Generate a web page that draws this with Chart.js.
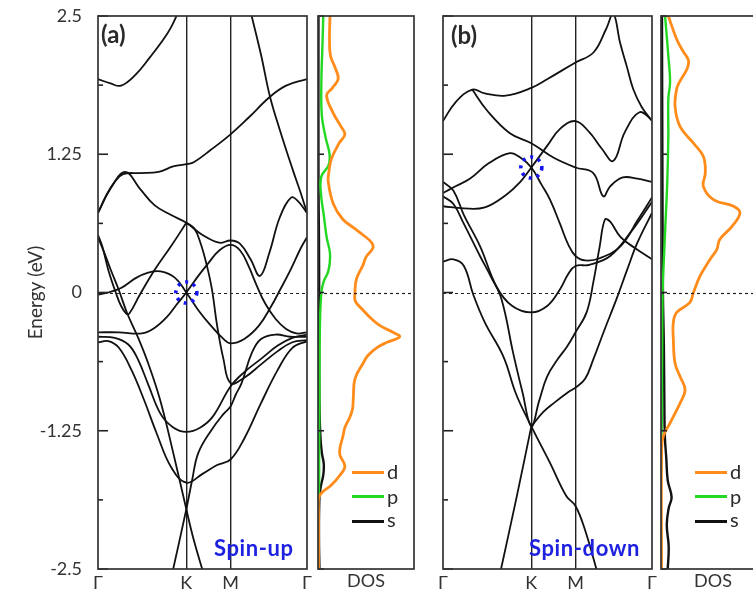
<!DOCTYPE html>
<html>
<head>
<meta charset="utf-8">
<script src="https://cdn.jsdelivr.net/npm/chart.js@4.4.0/dist/chart.umd.min.js"></script>
<style>
  html, body { margin: 0; padding: 0; background: #fff; overflow: hidden; width: 753px; height: 595px; }
  canvas { position: absolute; top: 0; }
  .txt { position: absolute; font-family: Lato, 'Open Sans', sans-serif; color: #2a2a2a; white-space: nowrap; line-height: 1; }
  .bold { font-weight: bold; }
  .spin { color: #1e22e0; font-weight: bold; font-size: 22px; letter-spacing: 0.6px; }
  .key { position: absolute; height: 3px; }
</style>
</head>
<body>
<canvas id="bandUp" width="312" height="595" style="left:0"></canvas>
<canvas id="dosUp" width="130" height="595" style="left:300px"></canvas>
<canvas id="bandDown" width="230" height="595" style="left:430px"></canvas>
<canvas id="dosDown" width="120" height="595" style="left:655px"></canvas>

<div class="txt bold" style="left:101px;top:22px;font-size:24px">(a)</div>
<div class="txt bold" style="left:451px;top:23px;font-size:24px">(b)</div>
<div class="txt spin" style="left:214px;top:537px">Spin-up</div>
<div class="txt spin" style="left:529px;top:537px">Spin-down</div>

<div class="key" style="left:352px;top:471px;width:32px;background:#ff8c1a"></div>
<div class="key" style="left:352px;top:495px;width:32px;background:#22d822"></div>
<div class="key" style="left:352px;top:520px;width:32px;background:#111"></div>
<div class="txt" style="left:387px;top:461px;font-size:20px">d</div>
<div class="txt" style="left:387px;top:486px;font-size:20px">p</div>
<div class="txt" style="left:387px;top:509px;font-size:20px">s</div>

<div class="key" style="left:695px;top:471px;width:32px;background:#ff8c1a"></div>
<div class="key" style="left:695px;top:495px;width:32px;background:#22d822"></div>
<div class="key" style="left:695px;top:520px;width:32px;background:#111"></div>
<div class="txt" style="left:730px;top:461px;font-size:20px">d</div>
<div class="txt" style="left:730px;top:486px;font-size:20px">p</div>
<div class="txt" style="left:730px;top:509px;font-size:20px">s</div>

<script>
// ---- k-path and energy axis ----
const kNodes = [0, 0.4226, 0.634, 1];
const kNames = ['Γ', 'K', 'M', 'Γ'];
const energyTicks = [-2.5, -1.25, 0, 1.25, 2.5];

// ---- spin-up bands, [k, E] ----
const upBands = [
    [[0,1.93],[0.06,1.89],[0.11,1.87],[0.18,1.97],[0.25,2.13],[0.31,2.28],[0.35,2.4],[0.385,2.54]],
    [[0.73,2.54],[0.78,2.15],[0.823,1.77],[0.87,1.47],[0.93,1.12],[0.97,0.9],[1,0.72]],
    [[0,0.72],[0.04,0.88],[0.08,1.0],[0.12,1.07],[0.2,1.08],[0.29,1.09],[0.36,1.14],[0.4226,1.16],[0.46,1.18],[0.54,1.29],[0.634,1.43],[0.72,1.58],[0.823,1.77],[0.9,1.87],[1,1.93]],
    [[0,0.72],[0.06,0.94],[0.13,1.09],[0.2,0.94],[0.27,0.79],[0.35,0.7],[0.4226,0.63],[0.5,0.52],[0.58,0.45],[0.634,0.47],[0.68,0.44],[0.73,0.3],[0.775,0.15],[0.82,0.36],[0.87,0.68],[0.925,0.86],[0.96,0.82],[1,0.72]],
    [[0,-0.36],[0.1,-0.36],[0.21,-0.37],[0.27,-0.32],[0.33,-0.22],[0.38,-0.1],[0.4226,0],[0.48,0.15],[0.53,0.27],[0.58,0.38],[0.634,0.43],[0.68,0.38],[0.72,0.24],[0.76,0.06],[0.8,-0.1],[0.85,-0.24],[0.9,-0.33],[0.95,-0.37],[1,-0.36]],
    [[0,-0.02],[0.05,0.0],[0.11,0.04],[0.18,0.13],[0.24,0.18],[0.3,0.19],[0.37,0.13],[0.4226,0],[0.48,-0.16],[0.54,-0.3],[0.6,-0.42],[0.634,-0.46],[0.7,-0.42],[0.77,-0.3],[0.83,-0.12],[0.87,0.02],[0.92,0.2],[0.97,0.4],[1,0.5]],
    [[0,0.52],[0.02,0.42],[0.05,0.2],[0.085,0.0],[0.11,-0.12],[0.135,-0.19],[0.15,-0.19],[0.2,-0.02],[0.273,0.21],[0.35,0.42],[0.4226,0.63]],
    [[0.4226,0.63],[0.46,0.58],[0.49,0.45],[0.52,0.25],[0.545,0.03],[0.57,-0.3],[0.6,-0.6],[0.634,-0.82],[0.7,-0.77],[0.78,-0.65],[0.86,-0.53],[0.93,-0.45],[1,-0.43]],
    [[0,0.5],[0.03,0.36],[0.06,0.21],[0.1,0.02],[0.14,-0.19],[0.19,-0.4],[0.24,-0.64],[0.297,-0.97],[0.36,-1.45],[0.4226,-1.96],[0.46,-2.25],[0.505,-2.54]],
    [[0.355,-2.54],[0.4226,-1.96],[0.45,-1.7],[0.48,-1.45],[0.544,-1.24],[0.6,-1.1],[0.634,-1.03],[0.66,-0.92],[0.687,-0.82],[0.735,-0.55],[0.78,-0.42],[0.85,-0.38],[0.92,-0.4],[1,-0.4]],
    [[0,-0.4],[0.08,-0.41],[0.145,-0.47],[0.19,-0.6],[0.24,-0.83],[0.3,-1.1],[0.36,-1.22],[0.4226,-1.26],[0.49,-1.22],[0.55,-1.12],[0.634,-0.85],[0.7,-0.72],[0.78,-0.6],[0.86,-0.48],[0.93,-0.41],[1,-0.38]],
    [[0,-0.45],[0.05,-0.44],[0.1,-0.5],[0.16,-0.7],[0.22,-0.97],[0.28,-1.27],[0.35,-1.58],[0.4226,-1.72],[0.5,-1.64],[0.57,-1.56],[0.634,-1.51],[0.7,-1.32],[0.78,-1.0],[0.86,-0.7],[0.93,-0.5],[1,-0.44]]
];

// ---- spin-down bands, [k, E] ----
const downBands = [
    [[0,1.55],[0.06,1.72],[0.14,1.835],[0.2,1.8],[0.3,1.78],[0.4226,1.85],[0.5,1.93],[0.634,2.08],[0.72,2.17],[0.78,2.38],[0.815,2.52],[0.847,2.26],[0.88,2.04],[0.91,1.84],[0.95,1.68],[1,1.55]],
    [[0.14,1.835],[0.209,1.65],[0.32,1.44],[0.4226,1.35],[0.528,1.22],[0.634,1.13],[0.719,1.08],[0.767,0.87],[0.8,0.96],[0.86,1.04],[0.93,1.03],[1,1.0]],
    [[0,0.9],[0.06,0.96],[0.13,1.03],[0.22,1.17],[0.32,1.26],[0.37,1.22],[0.4226,1.13],[0.47,0.98],[0.512,0.84],[0.56,0.62],[0.6,0.43],[0.634,0.33],[0.68,0.29],[0.75,0.31],[0.85,0.42],[0.93,0.65],[1,0.86]],
    [[0,0.78],[0.1,0.76],[0.2,0.77],[0.3,0.88],[0.37,1.0],[0.4226,1.13],[0.5,1.33],[0.56,1.48],[0.634,1.55],[0.7,1.45],[0.76,1.3],[0.815,1.19],[0.87,1.45],[0.94,1.63],[1,1.56]],
    [[0,0.28],[0.05,0.3],[0.1,0.24],[0.145,-0.02],[0.2,-0.27],[0.289,-0.58],[0.35,-0.92],[0.4226,-1.21],[0.512,-1.54],[0.59,-1.84],[0.634,-1.93],[0.68,-2.15],[0.74,-2.54]],
    [[0,0.87],[0.05,0.8],[0.1,0.62],[0.177,0.33],[0.23,0.14],[0.28,-0.06],[0.336,-0.55],[0.38,-0.9],[0.4226,-1.21],[0.46,-0.98],[0.498,-0.76],[0.55,-0.6],[0.593,-0.49],[0.634,-0.36],[0.687,-0.18],[0.72,0.1],[0.75,0.42],[0.775,0.66],[0.8,0.64],[0.85,0.5],[0.92,0.4],[1,0.3]],
    [[0.4226,-1.21],[0.48,-1.08],[0.53,-1.0],[0.6,-0.9],[0.634,-0.86],[0.68,-0.78],[0.72,-0.6],[0.77,-0.35],[0.83,-0.06],[0.88,0.2],[0.93,0.45],[1,0.72]],
    [[0.273,-2.54],[0.35,-1.87],[0.4226,-1.21]],
    [[0,1.0],[0.05,0.92],[0.1,0.7],[0.177,0.42],[0.257,0.05],[0.33,-0.12],[0.4226,-0.18],[0.5,-0.12],[0.56,0.03],[0.6,0.17],[0.634,0.24],[0.7,0.25],[0.8,0.33],[0.9,0.55],[1,0.82]]
];

// marked crossings [k, E]
const upRing = [0.4226, 0];
const downRing = [0.4226, 1.13];

// ---- projected DOS, [E, states] ----
const upD = [[2.5,1.25],[2.3,1.2],[2.14,1.3],[2.03,1.8],[1.93,2.1],[1.85,1.5],[1.78,0.9],[1.62,1.6],[1.5,2.4],[1.43,2.8],[1.35,2.2],[1.21,1.4],[1.1,1.15],[1.0,1.07],[0.8,1.6],[0.66,2.6],[0.58,3.8],[0.52,4.7],[0.45,5.6],[0.4,5.7],[0.32,5.0],[0.25,4.7],[0.12,4.0],[0,3.85],[-0.08,3.9],[-0.16,4.7],[-0.24,5.6],[-0.3,6.46],[-0.36,7.8],[-0.4,8.5],[-0.45,7.2],[-0.5,6.1],[-0.57,5.2],[-0.64,4.7],[-0.78,3.85],[-0.95,3.68],[-1.05,3.6],[-1.13,3.3],[-1.22,2.8],[-1.3,2.6],[-1.4,2.3],[-1.47,2.29],[-1.57,2.8],[-1.65,2.3],[-1.74,1.4],[-1.81,0.4],[-1.86,0.05],[-2.0,0.05],[-2.5,0.05]];
const upP = [[2.5,0.55],[2.2,0.45],[1.9,0.35],[1.6,0.4],[1.4,0.8],[1.25,1.2],[1.15,1.1],[1.05,0.35],[0.9,0.3],[0.7,0.6],[0.5,0.9],[0.35,1.25],[0.2,1.1],[0.1,0.6],[0,0.35],[-0.3,0.2],[-1.0,0.15],[-1.5,0.12],[-1.8,0.1],[-1.9,0.0],[-2.5,0.0]];
const upS = [[2.5,0.05],[1.0,0.05],[0.5,0.1],[0,0.12],[-0.5,0.12],[-1.0,0.15],[-1.3,0.25],[-1.45,0.4],[-1.55,0.6],[-1.65,0.55],[-1.75,0.3],[-1.85,0.15],[-2.2,0.1],[-2.5,0.15]];

const downD = [[2.5,0.76],[2.29,1.63],[2.18,2.3],[2.1,2.85],[2.02,2.7],[1.9,1.9],[1.84,1.63],[1.68,1.46],[1.5,1.98],[1.35,3.37],[1.23,4.4],[1.08,4.6],[0.96,4.4],[0.84,5.45],[0.78,7.53],[0.72,8.2],[0.6,7.4],[0.48,6.1],[0.39,5.8],[0.3,5.1],[0.15,4.06],[0,3.37],[-0.09,3.0],[-0.18,1.63],[-0.27,1.28],[-0.42,1.28],[-0.64,1.46],[-0.76,1.98],[-0.88,2.5],[-1.0,1.98],[-1.18,0.94],[-1.3,0.24],[-1.4,0.07],[-2.5,0.05]];
const downP = [[2.5,0.42],[2.1,0.8],[1.9,0.94],[1.75,0.76],[1.4,0.76],[1.0,0.65],[0.6,0.45],[0.3,0.3],[0,0.17],[-0.6,0.12],[-1.2,0.08],[-1.35,0.0],[-2.5,0.0]];
const downS = [[2.5,0.1],[1.0,0.15],[0,0.2],[-0.5,0.3],[-1.0,0.35],[-1.3,0.4],[-1.5,0.55],[-1.7,0.7],[-1.85,1.1],[-1.95,0.8],[-2.1,0.6],[-2.3,0.8],[-2.5,0.7]];

const dosMaxUp = 10;
const dosMaxDown = 10.8;

const FONT = "Lato, 'Open Sans', sans-serif";
const ORANGE = '#ff8c1a', GREEN = '#22d822', BLACK = '#111';

const kPoints = arr => arr.map(([x, y]) => ({ x, y }));
const dosPoints = arr => arr.map(([e, v]) => ({ x: v, y: e }));

// frame, inward ticks, dashed Fermi level and the dotted ring
const panelDeco = {
    id: 'panelDeco',
    afterDatasetsDraw(chart, args, opts) {
        const { ctx, chartArea: a } = chart;
        const y = chart.scales.y;
        ctx.save();
        ctx.strokeStyle = '#222';
        const y0 = Math.round(y.getPixelForValue(0)) + 0.5;
        ctx.lineWidth = 1.2;
        ctx.setLineDash([3, 3]);
        ctx.beginPath(); ctx.moveTo(a.left, y0); ctx.lineTo(a.right, y0); ctx.stroke();
        ctx.setLineDash([]);

        ctx.lineWidth = 1.6;
        for (let i = 0; i <= 8; i++) {
            const v = -2.5 + i * 0.625;
            const major = i % 2 === 0;
            if (!major && !opts.minor) continue;
            const py = y.getPixelForValue(v);
            ctx.beginPath(); ctx.moveTo(a.left, py); ctx.lineTo(a.left + (major ? opts.tick : opts.tick / 2), py); ctx.stroke();
        }

        ctx.strokeStyle = '#333';
        ctx.lineWidth = 1.7;
        ctx.strokeRect(a.left, a.top, a.right - a.left, a.bottom - a.top);

        if (opts.ring) {
            const cx = chart.scales.x.getPixelForValue(opts.ring[0]);
            const cy = y.getPixelForValue(opts.ring[1]);
            ctx.strokeStyle = '#1515f0';
            ctx.lineWidth = 3.6;
            ctx.setLineDash([3, 5]);
            ctx.beginPath(); ctx.arc(cx, cy, 10.5, 0, Math.PI * 2); ctx.stroke();
        }
        ctx.restore();
    }
};

function bandChart(id, bands, ring, withLabels, pad) {
    const yAxis = withLabels ? {
        min: -2.5, max: 2.5,
        afterBuildTicks: s => { s.ticks = energyTicks.map(v => ({ value: v })); },
        afterFit: s => { s.width = 98; s.paddingTop = 0; s.paddingBottom = 0; },
        ticks: { padding: 8, color: '#333', font: { family: FONT, size: 18 }, callback: v => String(v) },
        grid: { display: false },
        border: { display: false },
        title: { display: true, text: 'Energy (eV)', color: '#333', font: { family: FONT, size: 19 }, padding: { top: 24, bottom: 0 } }
    } : { display: false, min: -2.5, max: 2.5 };

    return new Chart(document.getElementById(id), {
        type: 'scatter',
        data: {
            datasets: bands.map(b => ({
                data: kPoints(b), showLine: true, borderColor: '#111', borderWidth: 1.8,
                pointRadius: 0, tension: 0.4
            }))
        },
        options: {
            responsive: false, animation: false,
            layout: { padding: { top: 16, bottom: 0, left: pad[0], right: pad[1] } },
            plugins: { legend: { display: false }, tooltip: { enabled: false }, panelDeco: { tick: 10, minor: true, ring } },
            scales: {
                x: {
                    type: 'linear', min: 0, max: 1,
                    afterBuildTicks: s => { s.ticks = kNodes.map(v => ({ value: v })); },
                    afterFit: s => { s.height = 26; s.paddingLeft = 0; s.paddingRight = 0; },
                    ticks: { autoSkip: false, maxRotation: 0, padding: 3, color: '#333', font: { family: FONT, size: 18 }, callback: (v, i) => kNames[i] },
                    grid: { drawTicks: false, lineWidth: 1.4, color: c => (c.index === 1 || c.index === 2) ? '#222' : 'rgba(0,0,0,0)' },
                    border: { display: false }
                },
                y: yAxis
            }
        },
        plugins: [panelDeco]
    });
}

function dosChart(id, d, p, s, xMax, pad) {
    const curve = (arr, color, w) => ({
        data: dosPoints(arr), showLine: true, borderColor: color, borderWidth: w, pointRadius: 0, tension: 0.4
    });
    return new Chart(document.getElementById(id), {
        type: 'scatter',
        data: { datasets: [curve(d, ORANGE, 2.8), curve(p, GREEN, 2.4), curve(s, BLACK, 2.4)] },
        options: {
            responsive: false, animation: false,
            layout: { padding: { top: 16, bottom: 0, left: pad[0], right: pad[1] } },
            plugins: { legend: { display: false }, tooltip: { enabled: false }, panelDeco: { tick: 6, minor: false } },
            scales: {
                x: {
                    type: 'linear', min: 0, max: xMax,
                    afterFit: sc => { sc.height = 26; sc.paddingLeft = 0; sc.paddingRight = 0; },
                    ticks: { display: false }, grid: { display: false }, border: { display: false },
                    title: { display: true, text: 'DOS', color: '#333', font: { family: FONT, size: 18 }, padding: { top: 0, bottom: 3 } }
                },
                y: { display: false, min: -2.5, max: 2.5 }
            }
        },
        plugins: [panelDeco]
    });
}

bandChart('bandUp', upBands, upRing, true, [0, 5]);
dosChart('dosUp', upD, upP, upS, dosMaxUp, [18, 16]);
bandChart('bandDown', downBands, downRing, false, [13, 8]);
dosChart('dosDown', downD, downP, downS, dosMaxDown, [6, 10]);
</script>
</body>
</html>
